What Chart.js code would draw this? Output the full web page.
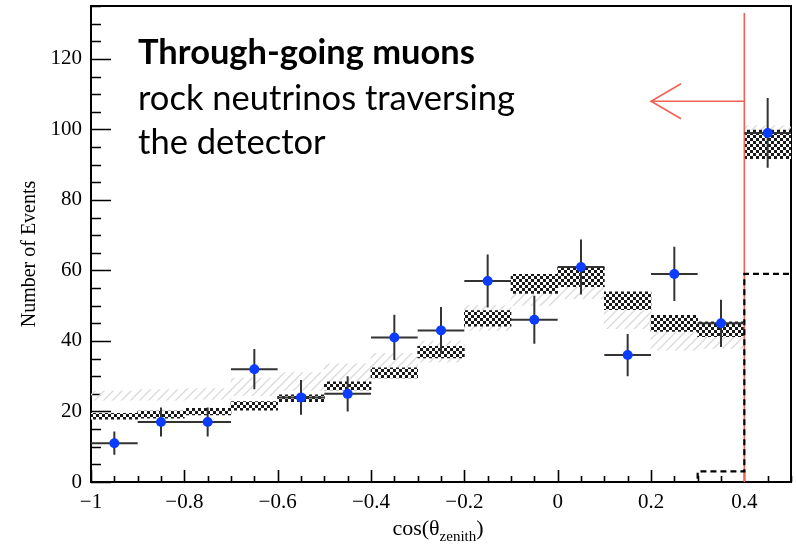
<!DOCTYPE html>
<html><head><meta charset="utf-8">
<script src="https://cdn.jsdelivr.net/npm/chart.js@4.4.1/dist/chart.umd.min.js"></script>
<style>html,body{margin:0;padding:0;background:#fff;}canvas{display:block;}</style>
</head><body>
<canvas id="c" width="796" height="545"></canvas>
<script>
// ---- data ----
const binCenters = [-0.95,-0.85,-0.75,-0.65,-0.55,-0.45,-0.35,-0.25,-0.15,-0.05,0.05,0.15,0.25,0.35,0.45];
const binHalfWidth = 0.05;
const dataCounts = [11,17,17,32,24,25,41,43,57,46,61,36,59,45,99];
const dataErrors = [3.3,4.1,4.1,5.7,4.9,5.0,6.4,6.6,7.5,6.8,7.8,6.0,7.7,6.7,9.9];
const predLow  = [17.8,18.1,19.0,20.4,22.8,26.1,29.5,35.2,44.2,53.5,55.4,48.9,42.7,41.2,91.7];
const predHigh = [19.5,20.1,20.9,22.8,24.7,28.4,32.4,38.5,48.6,58.9,61.1,53.9,47.3,45.4,99.8];
const altLow   = [23.2,23.2,23.4,24.5,26.0,28.0,30.5,34.0,43.0,50.0,52.0,43.5,37.4,37.9,96.0];
const altHigh  = [25.8,26.2,26.5,29.5,31.0,33.5,36.5,40.0,50.0,55.0,57.0,50.0,44.0,42.5,101.0];
const dashedCounts = [0,0,0,0,0,0,0,0,0,0,0,0,0,3,59];
const xTickValues = [-1,-0.8,-0.6,-0.4,-0.2,0,0.2,0.4];
const yTickValues = [0,20,40,60,80,100,120];
const xRange = [-1, 0.5];
const yRange = [0, 135];
const cutValue = 0.4, cutTop = 133, arrowTipX = 0.2, arrowY = 108;
const titleLine = "Through-going muons";
const subLines = ["rock neutrinos traversing", "the detector"];
const yTitle = "Number of Events";

// ---- styles ----
const canvas = document.getElementById('c');
const ctx0 = canvas.getContext('2d');
function checkerPattern() {
  const c = document.createElement('canvas'); c.width = 6; c.height = 6;
  const g = c.getContext('2d');
  g.fillStyle = '#fff'; g.fillRect(0,0,6,6);
  g.fillStyle = '#1a1a1a'; g.fillRect(0,0,3,3); g.fillRect(3,3,3,3);
  return ctx0.createPattern(c, 'repeat');
}
function hatchPattern() {
  const c = document.createElement('canvas'); c.width = 9; c.height = 9;
  const g = c.getContext('2d');
  g.strokeStyle = '#dadada'; g.lineWidth = 1.3;
  g.beginPath();
  g.moveTo(0,9); g.lineTo(9,0);
  g.moveTo(-2,2); g.lineTo(2,-2);
  g.moveTo(7,11); g.lineTo(11,7);
  g.stroke();
  return ctx0.createPattern(c, 'repeat');
}
const RED = 'rgb(242,98,84)';
const BLUE = '#0b3cff';
const SERIF = '"Liberation Serif", "Times New Roman", serif';

function fmtTick(v) {
  if (v === 0) return '0';
  return (v < 0 ? '\u2212' : '') + String(Math.abs(v));
}

const overlay = {
  id: 'overlay',
  beforeDatasetsDraw(chart) {
    const {ctx, chartArea: a, scales: {x, y}} = chart;
    ctx.save();
    ctx.strokeStyle = '#000';
    ctx.lineWidth = 1.6;
    ctx.beginPath();
    for (let v = yRange[0]; v <= yRange[1] + 1e-9; v += 5) {
      const p = Math.round(y.getPixelForValue(v)) + 0.5;
      const len = (v % 20 === 0) ? 20 : 10;
      ctx.moveTo(a.left, p); ctx.lineTo(a.left + len, p);
    }
    for (let k = 0; k <= 30; k++) {
      const v = xRange[0] + k * 0.05;
      const p = Math.round(x.getPixelForValue(v)) + 0.5;
      const major = xTickValues.some(t => Math.abs(t - v) < 1e-6);
      const len = major ? 12 : 6;
      ctx.moveTo(p, a.bottom); ctx.lineTo(p, a.bottom - len);
    }
    ctx.stroke();
    ctx.lineWidth = 2;
    ctx.strokeRect(a.left, a.top, a.right - a.left, a.bottom - a.top);
    ctx.restore();
  },
  beforeDatasetDraw(chart, args) {
    const ds = chart.data.datasets[args.index];
    const {ctx, chartArea: a, scales: {x, y}} = chart;
    if (ds.role === 'dashed') {
      ctx.save();
      ctx.strokeStyle = RED; ctx.lineWidth = 1.6;
      const px = x.getPixelForValue(cutValue);
      ctx.beginPath();
      ctx.moveTo(px, y.getPixelForValue(0));
      ctx.lineTo(px, y.getPixelForValue(cutTop));
      ctx.stroke();
      ctx.restore();
    }
    if (ds.role === 'points') {
      ctx.save();
      ctx.beginPath(); ctx.rect(a.left, a.top, a.right - a.left, a.bottom - a.top); ctx.clip();
      ctx.strokeStyle = '#333'; ctx.lineWidth = 2;
      ctx.beginPath();
      binCenters.forEach((c, i) => {
        const px = x.getPixelForValue(c), py = y.getPixelForValue(dataCounts[i]);
        ctx.moveTo(px, y.getPixelForValue(dataCounts[i] - dataErrors[i]));
        ctx.lineTo(px, y.getPixelForValue(dataCounts[i] + dataErrors[i]));
        ctx.moveTo(x.getPixelForValue(c - binHalfWidth), py);
        ctx.lineTo(x.getPixelForValue(c + binHalfWidth), py);
      });
      ctx.stroke();
      ctx.restore();
    }
  },
  afterDatasetsDraw(chart) {
    const {ctx, chartArea: a, scales: {x, y}} = chart;
    ctx.save();
    ctx.strokeStyle = RED; ctx.lineWidth = 1.6;
    const x0 = x.getPixelForValue(cutValue), x1 = x.getPixelForValue(arrowTipX), py = y.getPixelForValue(arrowY);
    ctx.beginPath();
    ctx.moveTo(x0, py); ctx.lineTo(x1, py);
    ctx.moveTo(x1 + 30, py - 17.5); ctx.lineTo(x1, py); ctx.lineTo(x1 + 30, py + 17.5);
    ctx.stroke();
    ctx.fillStyle = '#000';
    ctx.font = '20px ' + SERIF;
    ctx.textBaseline = 'alphabetic';
    ctx.save();
    ctx.translate(35, (a.top + a.bottom) / 2 + 10);
    ctx.rotate(-Math.PI / 2);
    ctx.textAlign = 'center';
    ctx.fillText(yTitle, 0, 0);
    ctx.restore();
    const mainA = 'cos(\u03B8', sub = 'zenith', mainB = ')';
    ctx.font = '22px ' + SERIF; const wA = ctx.measureText(mainA).width, wB = ctx.measureText(mainB).width;
    ctx.font = '15px ' + SERIF; const wS = ctx.measureText(sub).width;
    let sx = 438 - (wA + wS + wB) / 2;
    ctx.textAlign = 'left';
    ctx.font = '22px ' + SERIF; ctx.fillText(mainA, sx, 535); sx += wA;
    ctx.font = '15px ' + SERIF; ctx.fillText(sub, sx, 541); sx += wS;
    ctx.font = '22px ' + SERIF; ctx.fillText(mainB, sx, 535);
    function fit(text, weight, target) {
      ctx.font = weight + ' 40px Lato';
      const w = ctx.measureText(text).width;
      return 40 * target / w;
    }
    const s1 = fit(titleLine, 'bold', 337);
    ctx.font = 'bold ' + s1.toFixed(2) + 'px Lato';
    ctx.fillText(titleLine, 138, 64);
    const s2 = fit(subLines[0], 'normal', 377);
    ctx.font = 'normal ' + s2.toFixed(2) + 'px Lato';
    ctx.fillText(subLines[0], 138, 110);
    ctx.fillText(subLines[1], 138, 154);
    ctx.restore();
  }
};

const hatchPat = hatchPattern();
const checkPat = checkerPattern();

const chart = new Chart(canvas, {
  type: 'bar',
  data: {
    datasets: [
      { role: 'points', type: 'scatter', order: 0,
        data: binCenters.map((c, i) => ({x: c, y: dataCounts[i]})),
        pointRadius: 5, pointBackgroundColor: BLUE, pointBorderWidth: 0, borderWidth: 0 },
      { role: 'dashed', type: 'line', order: 1, stepped: true,
        data: binCenters.map((c, i) => ({x: c - binHalfWidth, y: dashedCounts[i]}))
          .concat([{x: binCenters[binCenters.length - 1] + binHalfWidth, y: dashedCounts[dashedCounts.length - 1]}]),
        borderColor: '#000', borderWidth: 2.2, borderDash: [6, 4], pointRadius: 0, fill: false },
      { role: 'pred', type: 'bar', order: 2, grouped: false,
        data: binCenters.map((c, i) => ({x: c, y: [predLow[i], predHigh[i]]})),
        backgroundColor: checkPat, borderWidth: 0, barPercentage: 1, categoryPercentage: 1 },
      { role: 'alt', type: 'bar', order: 3, grouped: false,
        data: binCenters.map((c, i) => ({x: c, y: [altLow[i], altHigh[i]]})),
        backgroundColor: hatchPat, borderWidth: 0, barPercentage: 1, categoryPercentage: 1 }
    ]
  },
  options: {
    responsive: false, animation: false, devicePixelRatio: 1,
    layout: {padding: {top: 6, right: 3, left: 0, bottom: 0}},
    plugins: {legend: {display: false}, tooltip: {enabled: false}},
    scales: {
      x: {
        type: 'linear', min: xRange[0], max: xRange[1], offset: false,
        grid: {display: false, drawTicks: false, offset: false}, border: {display: false},
        afterBuildTicks: s => { s.ticks = xTickValues.map(v => ({value: v})); },
        afterFit: s => { s.height = 63; s.paddingLeft = 0; s.paddingRight = 0; },
        ticks: {autoSkip: false, maxRotation: 0, padding: 8, color: '#000',
                font: {family: SERIF, size: 21}, callback: v => fmtTick(v)}
      },
      y: {
        type: 'linear', min: yRange[0], max: yRange[1],
        grid: {display: false, drawTicks: false}, border: {display: false},
        afterBuildTicks: s => { s.ticks = yTickValues.map(v => ({value: v})); },
        afterFit: s => { s.width = 91; s.paddingTop = 0; s.paddingBottom = 0; },
        ticks: {autoSkip: false, padding: 9, color: '#000',
                font: {family: SERIF, size: 21}, callback: v => fmtTick(v)}
      }
    }
  },
  plugins: [overlay]
});
</script>
</body></html>
